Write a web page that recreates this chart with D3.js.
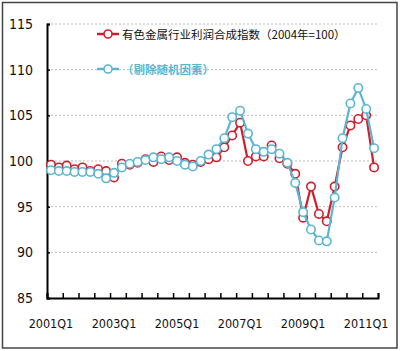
<!DOCTYPE html>
<html>
<head>
<meta charset="utf-8">
<script src="https://cdn.jsdelivr.net/npm/d3@7"></script>
<style>
  body { margin: 0; background: #fff; }
  svg { display: block; }
</style>
</head>
<body>
<svg id="chart" width="400" height="351"></svg>
<script>
let width = 400, height = 351;
let redColor = "#cf1f2e";
let blueColor = "#5bb6d2";
let numFont = "'Liberation Sans Narrow', 'DejaVu Sans Condensed', sans-serif";
let cjkFont = "'Noto Sans CJK SC', sans-serif";

// quarters 2001Q1 .. 2011Q2
let years = [2001, 2002, 2003, 2004, 2005, 2006, 2007, 2008, 2009, 2010, 2011];
let quarters = [];
for (var yr of years) {
    for (var q = 1; q <= 4; q++) {
        if (yr == 2011 && q > 2) break;
        quarters.push(yr + "Q" + q);
    }
}
let xLabels = ["2001Q1", "2003Q1", "2005Q1", "2007Q1", "2009Q1", "2011Q1"];
let yTicks = [85, 90, 95, 100, 105, 110, 115];
let gridTicks = [90, 95, 100, 105, 110, 115];

let seriesNames = ["有色金属行业利润合成指数（2004年=100）", "（剔除随机因素）"];

// composite profit index
let redValues = [
    99.6, 99.3, 99.5, 99.1, 99.3, 98.9, 99.1, 98.9,
    98.2, 99.7, 99.6, 99.8, 100.2, 99.9, 100.5, 100.1,
    100.4, 99.8, 99.6, 99.9, 100.2, 100.4, 101.5, 102.8,
    104.2, 100.0, 100.5, 100.5, 101.7, 100.3, 99.7, 98.6,
    93.8, 97.2, 94.2, 93.4, 97.2, 101.5, 103.9, 104.6,
    105.0, 99.3
];
// random factors removed
let blueValues = [
    99.0, 98.9, 98.9, 98.8, 98.8, 98.8, 98.6, 98.1,
    98.7, 99.3, 99.7, 99.9, 100.1, 100.4, 100.2, 100.4,
    100.0, 99.6, 99.4, 100.0, 100.7, 101.3, 102.5, 104.8,
    105.5, 103.0, 101.3, 101.0, 101.3, 100.8, 99.8, 97.6,
    94.4, 92.5, 91.3, 91.2, 96.0, 102.5, 106.3, 108.0,
    105.7, 101.4
];

let svg = d3.select("#chart");

// outer frame
svg.append("rect")
    .attr("x", 2.5)
    .attr("y", 2.5)
    .attr("width", 394.5)
    .attr("height", 345.5)
    .attr("fill", "#fff")
    .attr("stroke", "#444")
    .attr("stroke-width", 1.5);

let x = d3.scaleBand()
    .domain(quarters)
    .range([47, 378])
    .padding(0);

let xIdx = d3.scaleLinear()
    .domain([0, quarters.length])
    .range([47, 378]);

let y = d3.scaleLinear()
    .domain([85, 115])
    .range([298, 24]);

// grid lines
svg.append("g")
    .selectAll("line")
    .data(gridTicks)
    .enter()
    .append("line")
    .attr("x1", 47)
    .attr("x2", 378)
    .attr("y1", d => y(d))
    .attr("y2", d => y(d))
    .attr("stroke", "#bdbdbd")
    .attr("stroke-width", 1)
    .attr("stroke-dasharray", "2,2");

// y axis
let yAxis = svg.append("g")
    .attr("transform", "translate(47,0)")
    .call(d3.axisLeft(y).tickValues(yTicks).tickSize(-3).tickPadding(14));
yAxis.select(".domain").attr("stroke", "#000").attr("stroke-width", 2);
yAxis.selectAll(".tick line").attr("stroke", "#000").attr("stroke-width", 1.5);
yAxis.selectAll("text")
    .style("font-family", numFont)
    .style("font-size", "14px")
    .attr("fill", "#111");

// x axis tick marks (every 2 quarters)
let xAxis = svg.append("g")
    .attr("transform", "translate(0,298)")
    .call(d3.axisBottom(xIdx).tickValues(d3.range(0, quarters.length + 1, 2)).tickSize(-5).tickFormat(""));
xAxis.select(".domain").attr("stroke", "#000").attr("stroke-width", 2);
xAxis.selectAll(".tick line").attr("stroke", "#000").attr("stroke-width", 1.5);

// x labels
svg.append("g")
    .selectAll("text")
    .data(xLabels)
    .enter()
    .append("text")
    .attr("x", d => x(d) + x.bandwidth() / 2)
    .attr("y", 328)
    .attr("text-anchor", "middle")
    .style("font-family", numFont)
    .style("font-size", "12.5px")
    .attr("fill", "#111")
    .text(d => d);

let line = d3.line()
    .x((d, i) => x(quarters[i]) + x.bandwidth() / 2)
    .y(d => y(d));

function drawSeries(values, color) {
    svg.append("path")
        .datum(values)
        .attr("d", line)
        .attr("fill", "none")
        .attr("stroke", color)
        .attr("stroke-width", 2.2);
    svg.append("g")
        .selectAll("circle")
        .data(values)
        .enter()
        .append("circle")
        .attr("cx", (d, i) => x(quarters[i]) + x.bandwidth() / 2)
        .attr("cy", d => y(d))
        .attr("r", 4.2)
        .attr("fill", "#fff")
        .attr("stroke", color)
        .attr("stroke-width", 1.6);
}

drawSeries(redValues, redColor);
drawSeries(blueValues, blueColor);

// legend
function drawLegendItem(yPos, color, label, textColor) {
    svg.append("line")
        .attr("x1", 97)
        .attr("x2", 119)
        .attr("y1", yPos)
        .attr("y2", yPos)
        .attr("stroke", color)
        .attr("stroke-width", 2.5);
    svg.append("circle")
        .attr("cx", 108)
        .attr("cy", yPos)
        .attr("r", 4)
        .attr("fill", "#fff")
        .attr("stroke", color)
        .attr("stroke-width", 1.6);
    svg.append("text")
        .attr("x", 122)
        .attr("y", yPos + 4.5)
        .style("font-family", cjkFont)
        .style("font-size", "11.5px")
        .style("font-weight", textColor == "#111" ? "normal" : "bold")
        .attr("fill", textColor)
        .text(label);
}

drawLegendItem(34, redColor, seriesNames[0], "#111");
drawLegendItem(69, blueColor, seriesNames[1], blueColor);
</script>
</body>
</html>
